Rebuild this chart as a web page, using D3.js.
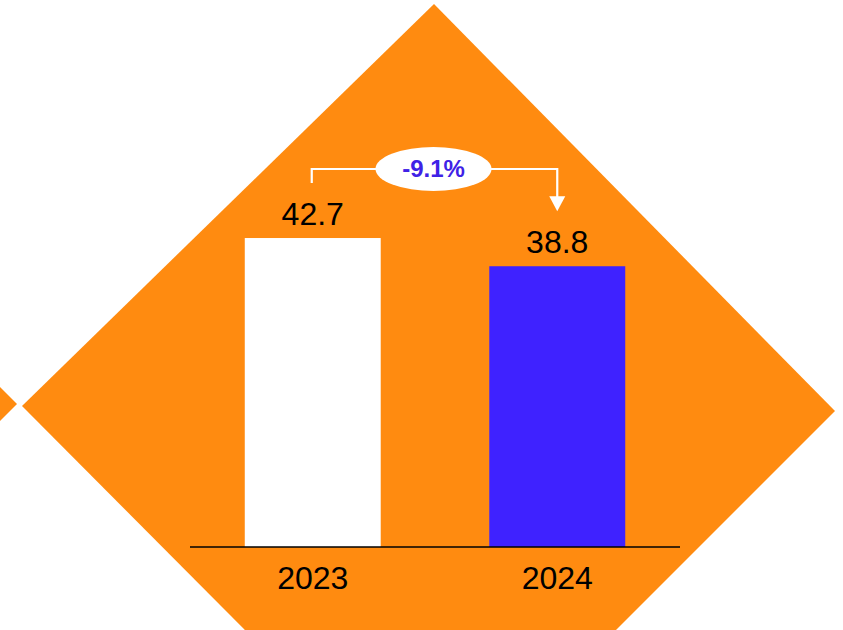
<!DOCTYPE html>
<html>
<head>
<meta charset="utf-8">
<script src="https://cdn.jsdelivr.net/npm/d3@7"></script>
<style>
  html, body { margin: 0; padding: 0; background: #ffffff; }
  svg { display: block; }
</style>
</head>
<body>
<svg id="chart" width="843" height="630"></svg>
<script>
// Yearly values
const years = ["2023", "2024"];
const values = [42.7, 38.8];
const barColors = ["#ffffff", "#3f22ff"];
const changeLabel = "-9.1%";

const svg = d3.select("#chart");
const orange = "#ff8b10";
const font = "Liberation Sans, Arial, sans-serif";

// Decorative background diamonds
svg.append("polygon")
  .attr("points", [[434, 4], [835, 411], [430, 816], [22, 406]].map(p => p.join(",")).join(" "))
  .attr("fill", orange);
svg.append("polygon")
  .attr("points", [[-5, 382], [17, 404], [-5, 426]].map(p => p.join(",")).join(" "))
  .attr("fill", orange);

// Scales
const x = d3.scaleBand()
  .domain(years)
  .range([190, 680])
  .paddingInner(0.444)
  .paddingOuter(0.224);

const y = d3.scaleLinear()
  .domain([0, 50])
  .range([547, 547 - 50 * 7.236]);

const data = years.map((yr, i) => ({ year: yr, value: values[i], color: barColors[i] }));

// Bars
svg.append("g").selectAll("rect")
  .data(data)
  .join("rect")
  .attr("x", d => x(d.year))
  .attr("y", d => y(d.value))
  .attr("width", x.bandwidth())
  .attr("height", d => y(0) - y(d.value))
  .attr("fill", d => d.color);

// Value labels
svg.append("g").selectAll("text")
  .data(data)
  .join("text")
  .attr("x", d => x(d.year) + x.bandwidth() / 2)
  .attr("y", d => y(d.value) - 13)
  .attr("text-anchor", "middle")
  .attr("font-family", font)
  .attr("font-size", 32)
  .attr("fill", "#000")
  .text(d => d.value.toFixed(1));

// Category axis
const axis = svg.append("g")
  .attr("transform", `translate(0,${y(0)})`)
  .call(d3.axisBottom(x).tickSize(0).tickPadding(19).tickSizeOuter(0));
axis.select(".domain")
  .attr("d", "M190,0H680")
  .attr("stroke", "#000")
  .attr("stroke-width", 1.6);
axis.selectAll(".tick text")
  .attr("font-family", font)
  .attr("font-size", 32)
  .attr("fill", "#000")
  .attr("dy", "0.71em");

// Change bracket between the two bars
const x0 = x(years[0]) + x.bandwidth() / 2 - 1;
const x1 = x(years[1]) + x.bandwidth() / 2;
const topY = 169;
const startY = y(values[0]) - 55;
const tipY = y(values[1]) - 55;

svg.append("path")
  .attr("d", `M${x0},${startY}V${topY}H${x1}V${tipY - 14}`)
  .attr("fill", "none")
  .attr("stroke", "#fff")
  .attr("stroke-width", 2.2);
svg.append("path")
  .attr("d", `M${x1 - 8},${tipY - 15}L${x1 + 8},${tipY - 15}L${x1},${tipY}Z`)
  .attr("fill", "#fff");

const cx = (x0 + x1) / 2 - 1;
svg.append("ellipse")
  .attr("cx", cx)
  .attr("cy", topY)
  .attr("rx", 58)
  .attr("ry", 22)
  .attr("fill", "#fff");
svg.append("text")
  .attr("x", cx)
  .attr("y", topY + 8)
  .attr("text-anchor", "middle")
  .attr("font-family", font)
  .attr("font-weight", "bold")
  .attr("font-size", 24)
  .attr("fill", "#3f22e6")
  .text(changeLabel);
</script>
</body>
</html>
